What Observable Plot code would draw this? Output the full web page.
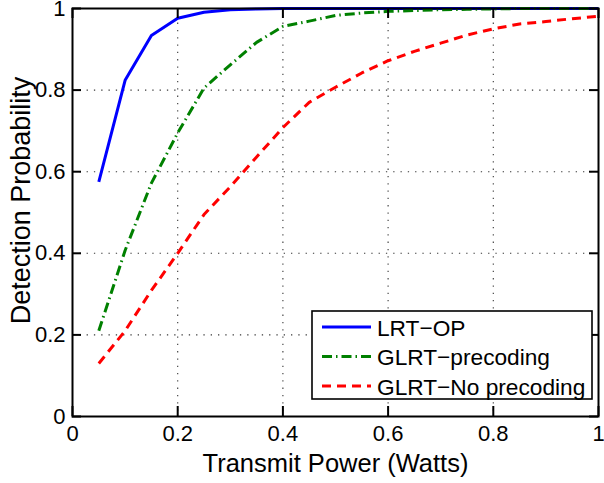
<!DOCTYPE html>
<html>
<head>
<meta charset="utf-8">
<script src="https://cdn.jsdelivr.net/npm/d3@7"></script>
<script src="https://cdn.jsdelivr.net/npm/@observablehq/plot@0.6"></script>
<style>
  html, body { margin: 0; padding: 0; background: #fff; }
  #wrap { position: relative; width: 604px; height: 483px; font-family: "Liberation Sans", Arial, Helvetica, sans-serif; }
  #legend { position: absolute; left: 0; top: 0; }
</style>
</head>
<body>
<div id="wrap"></div>
<script>
// ---- data ----
const power = [0.05, 0.10, 0.15, 0.20, 0.25, 0.30, 0.35, 0.40, 0.45, 0.50,
               0.55, 0.60, 0.65, 0.70, 0.75, 0.80, 0.85, 0.90, 0.95, 1.00];
const lrtOP = [0.575, 0.824, 0.934, 0.976, 0.991, 0.997, 0.999, 1.000, 1.000, 1.000,
               1.000, 1.000, 1.000, 1.000, 1.000, 1.000, 1.000, 1.000, 1.000, 1.000];
const glrtPrecoding = [0.210, 0.407, 0.572, 0.695, 0.805, 0.862, 0.917, 0.956, 0.969, 0.983,
                       0.989, 0.993, 0.995, 0.997, 0.998, 0.999, 1.000, 1.000, 1.000, 1.000];
const glrtNoPrecoding = [0.130, 0.210, 0.309, 0.400, 0.495, 0.563, 0.636, 0.708, 0.770, 0.807,
                         0.842, 0.872, 0.895, 0.915, 0.935, 0.950, 0.962, 0.968, 0.975, 0.981];
const seriesNames = ["LRT\u2212OP", "GLRT\u2212precoding", "GLRT\u2212No precoding"];
const seriesColors = ["#0000ff", "#008000", "#ff0000"];
const seriesDash = [null, "10,4,1.5,4", "9,6"];
const xTicks = [0, 0.2, 0.4, 0.6, 0.8, 1];
const yTicks = [0, 0.2, 0.4, 0.6, 0.8, 1];
const xLabel = "Transmit Power (Watts)";
const yLabel = "Detection Probability";

const seriesValues = [lrtOP, glrtPrecoding, glrtNoPrecoding];
const rows = seriesValues.map((vals, s) => power.map((p, i) => ({x: p, y: vals[i], s})));

const font = "'Liberation Sans', Arial, Helvetica, sans-serif";
const gridStyle = {stroke: "#222", strokeOpacity: 0.9, strokeWidth: 1.1, strokeDasharray: "1.3,6"};

const chart = Plot.plot({
  width: 604,
  height: 483,
  marginLeft: 72,
  marginRight: 6,
  marginTop: 8,
  marginBottom: 67,
  style: {fontFamily: font, background: "#fff", color: "#000", overflow: "visible"},
  x: {domain: [0, 1]},
  y: {domain: [0, 1]},
  marks: [
    Plot.gridX(xTicks.slice(1, -1), gridStyle),
    Plot.gridY(yTicks.slice(1, -1), gridStyle),
    // lines
    ...rows.map((r, s) => Plot.line(r, {
      x: "x", y: "y",
      stroke: seriesColors[s],
      strokeWidth: 3,
      strokeDasharray: seriesDash[s] || undefined,
      strokeLinecap: "butt",
      strokeLinejoin: "round"
    })),
    // inward ticks (bottom, top, left, right)
    Plot.ruleX(xTicks, {x: d => d, y1: 0, y2: 0, insetBottom: 10, stroke: "#000", strokeWidth: 2}),
    Plot.ruleX(xTicks, {x: d => d, y1: 1, y2: 1, insetTop: 10, stroke: "#000", strokeWidth: 2}),
    Plot.ruleY(yTicks, {y: d => d, x1: 0, x2: 0, insetRight: -9, stroke: "#000", strokeWidth: 2}),
    Plot.ruleY(yTicks, {y: d => d, x1: 1, x2: 1, insetLeft: -9, stroke: "#000", strokeWidth: 2}),
    Plot.frame({stroke: "#000", strokeWidth: 2}),
    // tick labels
    Plot.axisX(xTicks, {anchor: "bottom", tickSize: 0, tickPadding: 9, fontSize: 22, label: null, tickFormat: d => String(d), fill: "#000"}),
    Plot.axisY(yTicks, {anchor: "left", tickSize: 0, tickPadding: 7, fontSize: 22, label: null, tickFormat: d => String(d), fill: "#000"}),
    // axis titles
    Plot.text([xLabel], {text: d => d, frameAnchor: "bottom", textAnchor: "middle", lineAnchor: "middle", dy: 47, fontSize: 25.5, fill: "#000"}),
    Plot.text([yLabel], {text: d => d, frameAnchor: "left", textAnchor: "middle", lineAnchor: "middle", dx: -51, dy: -12, rotate: -90, fontSize: 27, fill: "#000"})
  ]
});

const wrap = document.getElementById("wrap");
wrap.appendChild(chart);

// legend inside the plot area (overlay)
const ns = "http://www.w3.org/2000/svg";
const leg = document.createElementNS(ns, "svg");
leg.setAttribute("id", "legend");
leg.setAttribute("width", 604);
leg.setAttribute("height", 483);
const box = document.createElementNS(ns, "rect");
box.setAttribute("x", 312); box.setAttribute("y", 311);
box.setAttribute("width", 280); box.setAttribute("height", 88);
box.setAttribute("fill", "#fff"); box.setAttribute("stroke", "#000"); box.setAttribute("stroke-width", 1.6);
leg.appendChild(box);
seriesNames.forEach((name, i) => {
  const yy = 327 + i * 29.5;
  const ln = document.createElementNS(ns, "line");
  ln.setAttribute("x1", 322); ln.setAttribute("x2", 371);
  ln.setAttribute("y1", yy); ln.setAttribute("y2", yy);
  ln.setAttribute("stroke", seriesColors[i]); ln.setAttribute("stroke-width", 3);
  if (seriesDash[i]) ln.setAttribute("stroke-dasharray", seriesDash[i]);
  leg.appendChild(ln);
  const tx = document.createElementNS(ns, "text");
  tx.setAttribute("x", 377); tx.setAttribute("y", yy + 8.5);
  tx.setAttribute("font-family", font); tx.setAttribute("font-size", 22.7);
  tx.setAttribute("fill", "#000");
  tx.textContent = name;
  leg.appendChild(tx);
});
wrap.appendChild(leg);
</script>
</body>
</html>
